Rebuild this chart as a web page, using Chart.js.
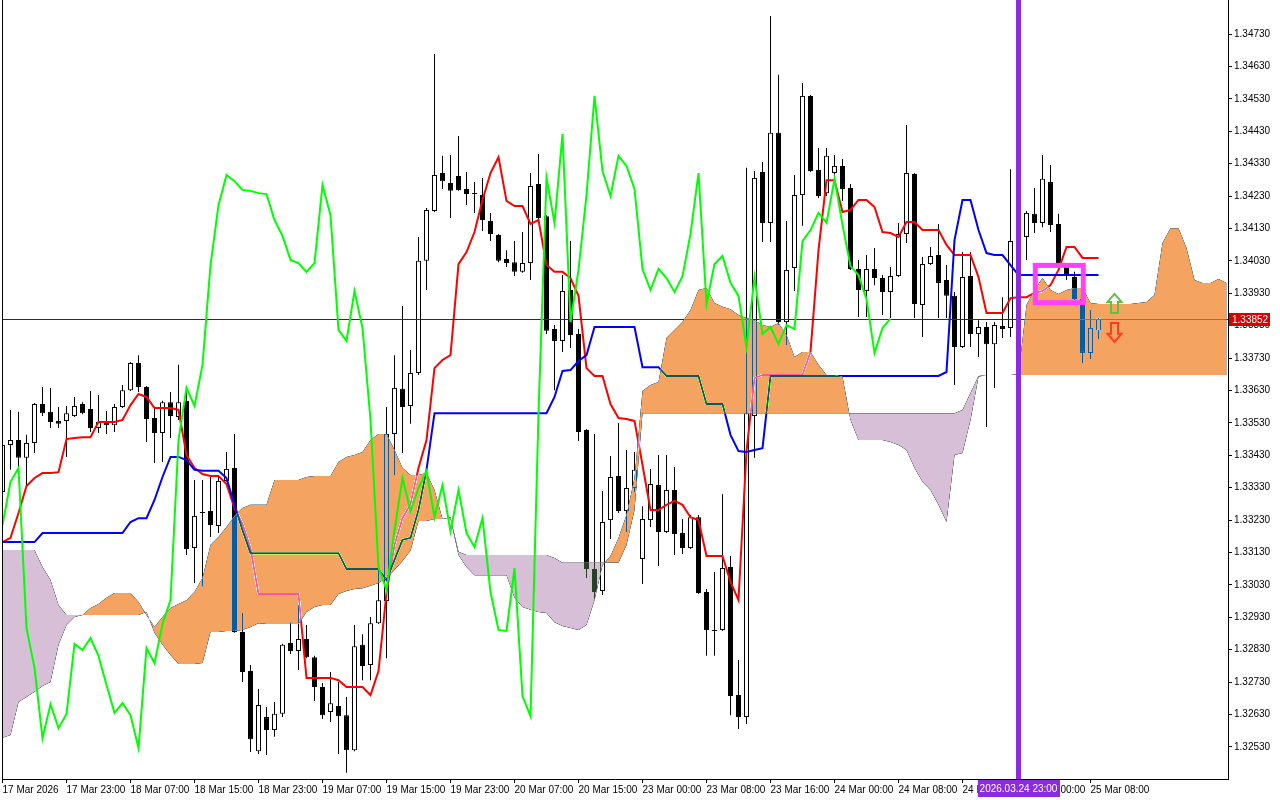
<!DOCTYPE html>
<html>
<head>
<meta charset="utf-8">
<title>H1 Ichimoku</title>
<script src="https://cdn.jsdelivr.net/npm/chart.js@4.4.1/dist/chart.umd.min.js"></script>
<style>
  html, body { margin: 0; padding: 0; background: #fff; }
  canvas { display: block; }
</style>
</head>
<body>
<canvas id="myChart" width="1280" height="800"></canvas>
<script>
// time axis: one label every 8 hourly bars
const timeLabels = ["17 Mar 2026", "17 Mar 23:00", "18 Mar 07:00", "18 Mar 15:00", "18 Mar 23:00",
  "19 Mar 07:00", "19 Mar 15:00", "19 Mar 23:00", "20 Mar 07:00", "20 Mar 15:00", "23 Mar 00:00",
  "23 Mar 08:00", "23 Mar 16:00", "24 Mar 00:00", "24 Mar 08:00", "24 Mar 16:00", "25 Mar 00:00",
  "25 Mar 08:00"];
const labelStep = 8;

const priceTicks = [1.32530, 1.32630, 1.32730, 1.32830, 1.32930, 1.33030, 1.33130, 1.33230, 1.33330,
  1.33430, 1.33530, 1.33630, 1.33730, 1.33830, 1.33930, 1.34030, 1.34130, 1.34230, 1.34330, 1.34430,
  1.34530, 1.34630, 1.34730];

// candles
const opens = [
  1.33317, 1.33462, 1.33477, 1.33422, 1.33468, 1.33588, 1.33564, 1.33536, 1.33536, 1.33551,
  1.33588, 1.33573, 1.33514, 1.33530, 1.33523, 1.33579, 1.33631, 1.33715, 1.33641, 1.33545,
  1.33499, 1.33594, 1.33548, 1.33598, 1.33144, 1.33255, 1.33258, 1.33212, 1.33351, 1.33391,
  1.32885, 1.32764, 1.32517, 1.32622, 1.32582, 1.32632, 1.32851, 1.32826, 1.32863, 1.32807,
  1.32715, 1.32638, 1.32656, 1.32628, 1.32520, 1.32845, 1.32783, 1.32912, 1.32980, 1.33496,
  1.33635, 1.33582, 1.33684, 1.34030, 1.34184, 1.34301, 1.34270, 1.34292, 1.34252, 1.34239,
  1.34233, 1.34153, 1.34110, 1.34036, 1.34026, 1.33996, 1.34023, 1.34267, 1.34168, 1.33820,
  1.33783, 1.33940, 1.33804, 1.33508, 1.33079, 1.33011, 1.33230, 1.33366, 1.33258, 1.33329,
  1.33110, 1.33230, 1.33338, 1.33193, 1.33323, 1.33190, 1.33144, 1.33239, 1.33008, 1.32891,
  1.32891, 1.33085, 1.32690, 1.32622, 1.33551, 1.34304, 1.34147, 1.34425, 1.33841, 1.34008,
  1.34233, 1.34539, 1.34310, 1.34239, 1.34301, 1.34323, 1.34255, 1.34005, 1.33937, 1.34005,
  1.33977, 1.33934, 1.33983, 1.34113, 1.34298, 1.33894, 1.34020, 1.34048, 1.33971, 1.33922,
  1.33764, 1.33983, 1.33804, 1.33826, 1.33773, 1.33829, 1.33823, 1.34091, 1.34104, 1.34175,
  1.34147, 1.34273, 1.34144, 1.34011, 1.33980, 1.33912, 1.33746, 1.33814
];
const highs = [
  1.33477, 1.33570, 1.33564, 1.33493, 1.33591, 1.33641, 1.33638, 1.33579, 1.33582, 1.33610,
  1.33594, 1.33628, 1.33616, 1.33567, 1.33588, 1.33647, 1.33718, 1.33739, 1.33644, 1.33576,
  1.33598, 1.33625, 1.33709, 1.33641, 1.33354, 1.33354, 1.33363, 1.33366, 1.33440, 1.33496,
  1.32943, 1.32783, 1.32709, 1.32653, 1.32669, 1.32848, 1.32915, 1.32968, 1.32906, 1.32811,
  1.32727, 1.32761, 1.32730, 1.32684, 1.32906, 1.32878, 1.32931, 1.33101, 1.33579, 1.33739,
  1.33891, 1.33755, 1.34104, 1.34193, 1.34668, 1.34354, 1.34357, 1.34415, 1.34304, 1.34273,
  1.34286, 1.34178, 1.34113, 1.34063, 1.34091, 1.34119, 1.34301, 1.34360, 1.34171, 1.33832,
  1.33986, 1.34091, 1.33820, 1.33511, 1.33496, 1.33320, 1.33428, 1.33530, 1.33446, 1.33440,
  1.33273, 1.33388, 1.33431, 1.33431, 1.33394, 1.33233, 1.33246, 1.33246, 1.33017, 1.33070,
  1.33310, 1.33119, 1.32798, 1.34317, 1.34307, 1.34335, 1.34786, 1.34604, 1.34153, 1.34295,
  1.34579, 1.34542, 1.34378, 1.34378, 1.34357, 1.34344, 1.34267, 1.34033, 1.34048, 1.34070,
  1.33986, 1.34011, 1.34147, 1.34449, 1.34301, 1.34042, 1.34073, 1.34144, 1.34017, 1.33934,
  1.34057, 1.34057, 1.33847, 1.33841, 1.33841, 1.33918, 1.34313, 1.34141, 1.34184, 1.34255,
  1.34357, 1.34326, 1.34175, 1.34023, 1.33996, 1.33925, 1.33878, 1.33855
];
const lows = [
  1.33307, 1.33385, 1.33391, 1.33329, 1.33437, 1.33551, 1.33514, 1.33514, 1.33425, 1.33548,
  1.33557, 1.33502, 1.33499, 1.33496, 1.33502, 1.33576, 1.33628, 1.33625, 1.33471, 1.33406,
  1.33409, 1.33483, 1.33539, 1.33122, 1.33036, 1.33024, 1.33178, 1.33190, 1.33348, 1.32882,
  1.32730, 1.32514, 1.32508, 1.32505, 1.32561, 1.32622, 1.32817, 1.32767, 1.32804, 1.32672,
  1.32616, 1.32607, 1.32508, 1.32450, 1.32517, 1.32736, 1.32736, 1.32909, 1.32804, 1.33369,
  1.33437, 1.33527, 1.33678, 1.33940, 1.34181, 1.34252, 1.34162, 1.34246, 1.34202, 1.34178,
  1.34122, 1.34091, 1.34026, 1.34011, 1.33983, 1.33993, 1.33971, 1.34150, 1.33804, 1.33631,
  1.33749, 1.33761, 1.33474, 1.33051, 1.32986, 1.32999, 1.33172, 1.33252, 1.33193, 1.33317,
  1.33033, 1.33209, 1.33088, 1.33190, 1.33122, 1.33125, 1.33141, 1.33002, 1.32811, 1.32811,
  1.32888, 1.32628, 1.32585, 1.32601, 1.33422, 1.34088, 1.34088, 1.33832, 1.33770, 1.33937,
  1.34138, 1.34304, 1.34224, 1.34230, 1.34276, 1.34215, 1.34002, 1.33857, 1.33857, 1.33955,
  1.33863, 1.33854, 1.33980, 1.34085, 1.33854, 1.33795, 1.34017, 1.33854, 1.33854, 1.33647,
  1.33761, 1.33764, 1.33733, 1.33517, 1.33638, 1.33792, 1.33795, 1.34063, 1.34033, 1.34116,
  1.34134, 1.34119, 1.34002, 1.33971, 1.33909, 1.33715, 1.33727, 1.33789
];
const closes = [
  1.33462, 1.33477, 1.33422, 1.33468, 1.33588, 1.33560, 1.33533, 1.33527, 1.33560, 1.33582,
  1.33560, 1.33514, 1.33533, 1.33523, 1.33579, 1.33631, 1.33715, 1.33641, 1.33542, 1.33499,
  1.33594, 1.33551, 1.33594, 1.33141, 1.33243, 1.33252, 1.33215, 1.33351, 1.33388, 1.32885,
  1.32761, 1.32554, 1.32659, 1.32582, 1.32632, 1.32845, 1.32826, 1.32863, 1.32807, 1.32715,
  1.32628, 1.32665, 1.32625, 1.32520, 1.32841, 1.32780, 1.32912, 1.32983, 1.33496, 1.33638,
  1.33579, 1.33684, 1.34030, 1.34187, 1.34295, 1.34276, 1.34246, 1.34249, 1.34236, 1.34236,
  1.34156, 1.34113, 1.34030, 1.34023, 1.33996, 1.34023, 1.34261, 1.34162, 1.33814, 1.33783,
  1.33937, 1.33801, 1.33502, 1.33079, 1.33008, 1.33224, 1.33363, 1.33258, 1.33329, 1.33385,
  1.33233, 1.33341, 1.33193, 1.33323, 1.33187, 1.33144, 1.33239, 1.33005, 1.32891, 1.32888,
  1.33082, 1.32687, 1.32622, 1.33560, 1.34286, 1.34147, 1.34425, 1.33841, 1.34002, 1.34233,
  1.34539, 1.34307, 1.34230, 1.34354, 1.34323, 1.34252, 1.34005, 1.33940, 1.34005, 1.33977,
  1.33934, 1.33983, 1.34113, 1.34301, 1.33897, 1.34020, 1.34045, 1.33962, 1.33922, 1.33764,
  1.33980, 1.33804, 1.33826, 1.33773, 1.33832, 1.33820, 1.34091, 1.34125, 1.34178, 1.34147,
  1.34283, 1.34141, 1.34014, 1.33986, 1.33912, 1.33746, 1.33823, 1.33852
];

// ichimoku lines
const tenkan = [
  1.33162, 1.33175, 1.33252, 1.33335, 1.33360, 1.33375, 1.33375, 1.33378, 1.33480, 1.33483,
  1.33486, 1.33486, 1.33533, 1.33533, 1.33533, 1.33539, 1.33585, 1.33619, 1.33610, 1.33576,
  1.33576, 1.33576, 1.33570, 1.33431, 1.33391, 1.33372, 1.33366, 1.33366, 1.33341, 1.33267,
  1.33218, 1.33144, 1.33002, 1.33002, 1.33002, 1.33002, 1.33002, 1.33002, 1.32743, 1.32743,
  1.32743, 1.32743, 1.32736, 1.32715, 1.32715, 1.32715, 1.32690, 1.32764, 1.33005, 1.33153,
  1.33236, 1.33280, 1.33391, 1.33477, 1.33699, 1.33724, 1.33739, 1.34020, 1.34057, 1.34119,
  1.34218, 1.34301, 1.34350, 1.34215, 1.34199, 1.34199, 1.34144, 1.34156, 1.34017, 1.33996,
  1.33996, 1.33977, 1.33922, 1.33699, 1.33675, 1.33675, 1.33588, 1.33545, 1.33542, 1.33536,
  1.33400, 1.33261, 1.33261, 1.33277, 1.33289, 1.33277, 1.33239, 1.33230, 1.33119, 1.33119,
  1.33119, 1.33039, 1.32983, 1.33443, 1.33668, 1.33678, 1.33678, 1.33678, 1.33678, 1.33678,
  1.33678, 1.33749, 1.34063, 1.34279, 1.34279, 1.34181, 1.34187, 1.34218, 1.34218, 1.34196,
  1.34119, 1.34116, 1.34104, 1.34150, 1.34150, 1.34125, 1.34125, 1.34125, 1.34079, 1.34048,
  1.34048, 1.34048, 1.33980, 1.33869, 1.33869, 1.33869, 1.33915, 1.33918, 1.33918, 1.33931,
  1.33937, 1.33955, 1.34002, 1.34073, 1.34073, 1.34039, 1.34039, 1.34039
];
const kijun = [
  1.33162, 1.33162, 1.33162, 1.33162, 1.33162, 1.33190, 1.33190, 1.33190, 1.33190, 1.33190,
  1.33190, 1.33190, 1.33190, 1.33190, 1.33190, 1.33190, 1.33224, 1.33236, 1.33236, 1.33292,
  1.33363, 1.33425, 1.33425, 1.33415, 1.33385, 1.33382, 1.33382, 1.33382, 1.33360, 1.33277,
  1.33199, 1.33128, 1.33128, 1.33128, 1.33128, 1.33128, 1.33128, 1.33128, 1.33128, 1.33128,
  1.33128, 1.33128, 1.33128, 1.33079, 1.33079, 1.33079, 1.33079, 1.33079, 1.33045, 1.33107,
  1.33169, 1.33175, 1.33261, 1.33385, 1.33560, 1.33560, 1.33560, 1.33560, 1.33560, 1.33560,
  1.33560, 1.33560, 1.33560, 1.33560, 1.33560, 1.33560, 1.33560, 1.33560, 1.33560, 1.33610,
  1.33690, 1.33693, 1.33721, 1.33739, 1.33826, 1.33826, 1.33826, 1.33826, 1.33826, 1.33826,
  1.33702, 1.33702, 1.33702, 1.33675, 1.33675, 1.33675, 1.33675, 1.33675, 1.33588, 1.33588,
  1.33588, 1.33493, 1.33443, 1.33440, 1.33446, 1.33452, 1.33675, 1.33675, 1.33675, 1.33675,
  1.33675, 1.33675, 1.33675, 1.33675, 1.33675, 1.33675, 1.33675, 1.33675, 1.33675, 1.33675,
  1.33675, 1.33675, 1.33675, 1.33675, 1.33675, 1.33675, 1.33675, 1.33675, 1.33687, 1.34094,
  1.34218, 1.34218, 1.34125, 1.34054, 1.34048, 1.34048, 1.34017, 1.33986, 1.33986, 1.33986,
  1.33986, 1.33986, 1.33986, 1.33986, 1.33986, 1.33986, 1.33986, 1.33986
];
// lagging span, already drawn 26 bars back
const chikou = [
  1.33215, 1.33348, 1.33391, 1.32897, 1.32774, 1.32557, 1.32662, 1.32588, 1.32632, 1.32848,
  1.32829, 1.32866, 1.32811, 1.32721, 1.32635, 1.32665, 1.32628, 1.32527, 1.32835, 1.32789,
  1.32909, 1.32983, 1.33477, 1.33638, 1.33582, 1.33709, 1.34017, 1.34202, 1.34295, 1.34276,
  1.34249, 1.34246, 1.34239, 1.34236, 1.34156, 1.34107, 1.34033, 1.34023, 1.33996, 1.34023,
  1.34264, 1.34171, 1.33817, 1.33783, 1.33937, 1.33823, 1.33539, 1.33085, 1.33014, 1.33199,
  1.33360, 1.33258, 1.33329, 1.33382, 1.33239, 1.33338, 1.33196, 1.33323, 1.33190, 1.33147,
  1.33236, 1.33008, 1.32891, 1.32888, 1.33082, 1.32687, 1.32625, 1.33560, 1.34286, 1.34147,
  1.34421, 1.33841, 1.34002, 1.34233, 1.34539, 1.34307, 1.34230, 1.34354, 1.34323, 1.34252,
  1.34005, 1.33940, 1.34005, 1.33977, 1.33934, 1.33983, 1.34113, 1.34301, 1.33897, 1.34020,
  1.34045, 1.33962, 1.33922, 1.33764, 1.33980, 1.33804, 1.33826, 1.33773, 1.33832, 1.33820,
  1.34091, 1.34125, 1.34178, 1.34147, 1.34283, 1.34141, 1.34014, 1.33986, 1.33912, 1.33746,
  1.33823, 1.33852
];
// cloud, already shifted 26 bars forward
const senkouA = [
  1.32558, 1.32567, 1.32669, 1.32684, 1.32700, 1.32718, 1.32730, 1.32845, 1.32906, 1.32931,
  1.32937, 1.32959, 1.32971, 1.32990, 1.33005, 1.33005, 1.33005, 1.32977, 1.32937, 1.32900,
  1.32931, 1.32959, 1.32971, 1.32983, 1.33008, 1.33051, 1.33153, 1.33178, 1.33209, 1.33243,
  1.33267, 1.33277, 1.33277, 1.33277, 1.33354, 1.33354, 1.33354, 1.33354, 1.33363, 1.33366,
  1.33366, 1.33366, 1.33409, 1.33425, 1.33431, 1.33440, 1.33477, 1.33496, 1.33496, 1.33446,
  1.33391, 1.33369, 1.33369, 1.33375, 1.33323, 1.33233, 1.33233, 1.33122, 1.33085, 1.33060,
  1.33060, 1.33060, 1.33060, 1.33060, 1.32990, 1.32962, 1.32953, 1.32946, 1.32943, 1.32915,
  1.32903, 1.32897, 1.32891, 1.32906, 1.32983, 1.33091, 1.33119, 1.33175, 1.33246, 1.33360,
  1.33628, 1.33647, 1.33656, 1.33792, 1.33817, 1.33841, 1.33878, 1.33940, 1.33946, 1.33900,
  1.33888, 1.33881, 1.33863, 1.33854, 1.33847, 1.33832, 1.33826, 1.33838, 1.33801, 1.33733,
  1.33749, 1.33749, 1.33709, 1.33678, 1.33678, 1.33672, 1.33539, 1.33477, 1.33477, 1.33477,
  1.33477, 1.33471, 1.33462, 1.33446, 1.33391, 1.33348, 1.33323, 1.33277, 1.33224, 1.33431,
  1.33437, 1.33539, 1.33672, 1.33678, 1.33678, 1.33678, 1.33678, 1.33681, 1.33894, 1.33940,
  1.33977, 1.33940, 1.33928, 1.33940, 1.33946, 1.33946, 1.33900, 1.33897, 1.33897, 1.33897,
  1.33897, 1.33897, 1.33900, 1.33903, 1.33925, 1.34085, 1.34131, 1.34131, 1.34070, 1.33971,
  1.33962, 1.33962, 1.33974, 1.33962
];
const senkouB = [
  1.33138, 1.33138, 1.33138, 1.33138, 1.33138, 1.33085, 1.33045, 1.32968, 1.32937, 1.32937,
  1.32937, 1.32937, 1.32937, 1.32937, 1.32937, 1.32937, 1.32937, 1.32937, 1.32946, 1.32882,
  1.32845, 1.32814, 1.32786, 1.32786, 1.32786, 1.32789, 1.32885, 1.32885, 1.32888, 1.32888,
  1.32891, 1.32900, 1.32912, 1.32909, 1.32909, 1.32909, 1.32909, 1.32909, 1.32946, 1.32962,
  1.32968, 1.32968, 1.33002, 1.33011, 1.33017, 1.33020, 1.33027, 1.33036, 1.33051, 1.33076,
  1.33104, 1.33135, 1.33227, 1.33227, 1.33233, 1.33233, 1.33239, 1.33132, 1.33122, 1.33122,
  1.33122, 1.33122, 1.33122, 1.33122, 1.33122, 1.33122, 1.33122, 1.33122, 1.33122, 1.33113,
  1.33098, 1.33098, 1.33098, 1.33098, 1.33098, 1.33098, 1.33098, 1.33098, 1.33153, 1.33261,
  1.33560, 1.33560, 1.33560, 1.33560, 1.33560, 1.33560, 1.33560, 1.33560, 1.33560, 1.33560,
  1.33560, 1.33560, 1.33560, 1.33560, 1.33560, 1.33560, 1.33560, 1.33560, 1.33560, 1.33560,
  1.33560, 1.33560, 1.33560, 1.33560, 1.33560, 1.33560, 1.33560, 1.33560, 1.33560, 1.33560,
  1.33560, 1.33560, 1.33560, 1.33560, 1.33560, 1.33560, 1.33560, 1.33560, 1.33560, 1.33560,
  1.33570, 1.33622, 1.33675, 1.33678, 1.33678, 1.33678, 1.33678, 1.33678, 1.33678, 1.33678,
  1.33678, 1.33678, 1.33678, 1.33678, 1.33678, 1.33678, 1.33678, 1.33678, 1.33678, 1.33678,
  1.33678, 1.33678, 1.33678, 1.33678, 1.33678, 1.33678, 1.33678, 1.33678, 1.33678, 1.33678,
  1.33678, 1.33678, 1.33678, 1.33678
];

// chart objects
const bidPrice = 1.33852;
const markerBar = 127;
const markerText = "2026.03.24 23:00";
const boxBars = [129.1, 135.1];
const boxPrices = [1.34016, 1.33901];
const arrowBar = 139;
const upArrow = [1.33928, 1.33869];
const downArrow = [1.33838, 1.33780];

const xMin = -0.0625, xMax = 153.1875;
const yMin = 1.32431, yMax = 1.34835;

const FONT = '"Liberation Sans", Arial, sans-serif';
Chart.defaults.font.family = FONT;
Chart.defaults.font.size = 10;
Chart.defaults.color = "#000";

const pts = (arr) => arr.map((v, i) => ({ x: i, y: v }));
const idx = closes.map((_, i) => i);

const KIJUN = 3;
const LAST_CLOUD = 7;

const background = {
  id: "whiteBackground",
  beforeDraw: (chart) => {
    const { ctx } = chart;
    ctx.save();
    ctx.fillStyle = "#fff";
    ctx.fillRect(0, 0, chart.width, chart.height);
    ctx.restore();
  },
};

// bid line sits under the cloud; the terminal paints the cloud as an
// inverted xor over what is already there, so switch to "difference" for it
const cloudBlend = {
  id: "cloudBlend",
  afterDatasetDraw: (chart, args) => {
    const { ctx, chartArea: a } = chart;
    if (args.index === KIJUN) {
      const py = Math.round(chart.scales.y.getPixelForValue(bidPrice));
      ctx.save();
      ctx.fillStyle = "#990000";
      ctx.fillRect(a.left, py, a.right - a.left, 1);
      ctx.restore();
      ctx.globalCompositeOperation = "difference";
    }
    if (args.index === LAST_CLOUD) ctx.globalCompositeOperation = "source-over";
  },
};

function drawArrow(ctx, cx, top, bottom, up) {
  const h = 8, hw = 7, sw = 3.5;
  ctx.beginPath();
  if (up) {
    ctx.moveTo(cx, top);
    ctx.lineTo(cx + hw, top + h);
    ctx.lineTo(cx + sw, top + h);
    ctx.lineTo(cx + sw, bottom);
    ctx.lineTo(cx - sw, bottom);
    ctx.lineTo(cx - sw, top + h);
    ctx.lineTo(cx - hw, top + h);
  } else {
    ctx.moveTo(cx, bottom);
    ctx.lineTo(cx + hw, bottom - h);
    ctx.lineTo(cx + sw, bottom - h);
    ctx.lineTo(cx + sw, top);
    ctx.lineTo(cx - sw, top);
    ctx.lineTo(cx - sw, bottom - h);
    ctx.lineTo(cx - hw, bottom - h);
  }
  ctx.closePath();
  ctx.stroke();
}

const objects = {
  id: "chartObjects",
  afterDraw: (chart) => {
    const { ctx, chartArea: a } = chart;
    const x = chart.scales.x, y = chart.scales.y;
    ctx.save();
    ctx.globalCompositeOperation = "source-over";

    // left frame
    ctx.fillStyle = "#000";
    ctx.fillRect(a.left, a.top, 1, a.bottom - a.top);

    // vertical line
    const vx = x.getPixelForValue(markerBar);
    ctx.fillStyle = "#8a2be2";
    ctx.fillRect(Math.round(vx - 2.5), a.top, 5, a.bottom - a.top);

    // rectangle
    const bx1 = x.getPixelForValue(boxBars[0]), bx2 = x.getPixelForValue(boxBars[1]);
    const by1 = y.getPixelForValue(boxPrices[0]), by2 = y.getPixelForValue(boxPrices[1]);
    ctx.strokeStyle = "#ff40ff";
    ctx.lineWidth = 5;
    ctx.strokeRect(bx1, by1, bx2 - bx1, by2 - by1);

    // arrows
    const ax = x.getPixelForValue(arrowBar);
    ctx.lineWidth = 2;
    ctx.strokeStyle = "#5cc43c";
    drawArrow(ctx, ax, y.getPixelForValue(upArrow[0]), y.getPixelForValue(upArrow[1]), true);
    ctx.strokeStyle = "#ff3c1e";
    drawArrow(ctx, ax, y.getPixelForValue(downArrow[0]), y.getPixelForValue(downArrow[1]), false);

    // price label
    ctx.font = "10px " + FONT;
    const py = Math.round(y.getPixelForValue(bidPrice));
    ctx.fillStyle = "#dd0000";
    ctx.fillRect(a.right + 1, py - 6, 41, 13);
    ctx.fillStyle = "#fff";
    ctx.textAlign = "left";
    ctx.textBaseline = "middle";
    ctx.fillText(bidPrice.toFixed(5), a.right + 4, py + 1);

    // time label
    const w = Math.ceil(ctx.measureText(markerText).width) + 4;
    ctx.fillStyle = "#8a2be2";
    ctx.fillRect(Math.round(vx - w / 2), a.bottom + 1, w, 17);
    ctx.fillStyle = "#fff";
    ctx.textAlign = "center";
    ctx.fillText(markerText, vx, a.bottom + 10);
    ctx.restore();
  },
};

const line = (label, data, color, order) => ({
  type: "line",
  label: label,
  data: data,
  borderColor: color,
  borderWidth: 2,
  pointRadius: 0,
  fill: false,
  order: order,
});

const ctx = document.getElementById("myChart");

new Chart(ctx, {
  type: "bar",
  data: {
    datasets: [
      {
        label: "wick",
        data: idx.map((i) => ({ x: i, y: [lows[i], highs[i]] })),
        backgroundColor: "#000",
        barThickness: 1,
        inflateAmount: 0,
        grouped: false,
        order: 10,
      },
      {
        label: "body",
        data: idx.map((i) => ({ x: i, y: [opens[i], closes[i]] })),
        backgroundColor: idx.map((i) => (closes[i] >= opens[i] ? "#fff" : "#000")),
        borderColor: "#000",
        borderWidth: 1,
        borderSkipped: false,
        barThickness: 5,
        minBarLength: 1,
        inflateAmount: 0,
        grouped: false,
        order: 9,
      },
      line("Tenkan-sen", pts(tenkan), "#ff0000", 7),
      line("Kijun-sen", pts(kijun), "#0000ff", 6),
      {
        type: "line",
        label: "Senkou Span A",
        data: pts(senkouA),
        borderColor: "rgba(0,0,0,0)",
        pointRadius: 0,
        fill: { target: "+1", above: "#f4a460", below: "#d8bfd8" },
        order: 5,
      },
      {
        type: "line",
        label: "Senkou Span B",
        data: pts(senkouB),
        borderColor: "rgba(0,0,0,0)",
        pointRadius: 0,
        order: 4,
      },
      {
        type: "line",
        label: "cloud-invert",
        data: pts(senkouA),
        borderColor: "rgba(0,0,0,0)",
        pointRadius: 0,
        fill: { target: "+1", above: "#fff", below: "#fff" },
        order: 3,
      },
      {
        type: "line",
        label: "cloud-invert-b",
        data: pts(senkouB),
        borderColor: "rgba(0,0,0,0)",
        pointRadius: 0,
        order: 2,
      },
      line("Chikou Span", pts(chikou), "#00ff00", 1),
    ],
  },
  options: {
    responsive: false,
    animation: false,
    events: [],
    layout: { autoPadding: false, padding: { left: 2, top: 0, right: 0, bottom: 0 } },
    plugins: {
      legend: { display: false },
      tooltip: { enabled: false },
    },
    scales: {
      x: {
        type: "linear",
        min: xMin,
        max: xMax,
        offset: false,
        afterBuildTicks: (scale) => {
          scale.ticks = timeLabels.map((_, k) => ({ value: k * labelStep }));
        },
        afterFit: (scale) => {
          scale.height = 21;
          scale.paddingLeft = 0;
          scale.paddingRight = 0;
        },
        grid: {
          drawOnChartArea: false,
          offset: false,
          color: "#000",
          tickLength: 4,
        },
        border: { color: "#000" },
        ticks: {
          autoSkip: false,
          maxRotation: 0,
          minRotation: 0,
          align: "start",
          padding: 1,
          color: "#000",
          callback: (v) => timeLabels[Math.round(v / labelStep)],
        },
      },
      y: {
        type: "linear",
        position: "right",
        min: yMin,
        max: yMax,
        afterBuildTicks: (scale) => {
          scale.ticks = priceTicks.map((v) => ({ value: v }));
        },
        afterFit: (scale) => {
          scale.width = 52;
          scale.paddingTop = 0;
          scale.paddingBottom = 0;
        },
        grid: {
          drawOnChartArea: false,
          color: "#000",
          tickLength: 4,
        },
        border: { color: "#000" },
        ticks: {
          padding: 2,
          color: "#000",
          callback: (v) => Number(v).toFixed(5),
        },
      },
    },
  },
  plugins: [background, cloudBlend, objects],
});
</script>
</body>
</html>
